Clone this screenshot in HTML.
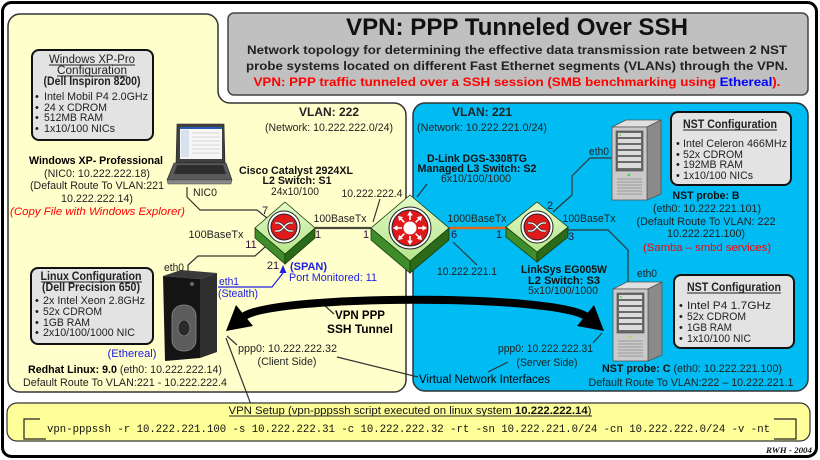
<!DOCTYPE html>
<html><head><meta charset="utf-8"><style>
html,body{margin:0;padding:0;background:#fff;width:820px;height:460px;overflow:hidden}
svg{display:block}
</style></head><body>
<svg width="820" height="460" viewBox="0 0 820 460" xmlns="http://www.w3.org/2000/svg">
<defs>
<linearGradient id="gtop" x1="0" y1="0" x2="0" y2="1"><stop offset="0" stop-color="#e4fac8"/><stop offset="1" stop-color="#b6e68c"/></linearGradient>
</defs>
<rect x="0" y="0" width="820" height="460" fill="#fff"/>
<!-- VLAN 222 yellow -->
<path d="M20,14 H206 A12,12 0 0 1 218,26 V91 A12,12 0 0 0 230,103 H394 A12,12 0 0 1 406,115 V380 A12,12 0 0 1 394,392 H20 A12,12 0 0 1 8,380 V26 A12,12 0 0 1 20,14 Z" fill="#ffffcc" stroke="#333" stroke-width="1.5"/>
<!-- VLAN 221 blue -->
<rect x="413" y="103" width="395" height="288" rx="12" fill="#00bcf2" stroke="#333" stroke-width="1.5"/>
<!-- title box -->
<rect x="228" y="13" width="580" height="82" rx="6" fill="#c0c0c0" stroke="#444" stroke-width="1.5"/>

<g font-family="Liberation Sans, Arial, sans-serif" font-size="11" fill="#222">
<text x="517" y="35" font-size="24" font-weight="bold" text-anchor="middle" fill="#111" textLength="342" lengthAdjust="spacingAndGlyphs">VPN: PPP Tunneled Over SSH</text>
<text x="517" y="54" font-size="12" font-weight="bold" text-anchor="middle" textLength="540" lengthAdjust="spacingAndGlyphs">Network topology for determining the effective data transmission rate between 2 NST</text>
<text x="517" y="70" font-size="12" font-weight="bold" text-anchor="middle" textLength="542" lengthAdjust="spacingAndGlyphs">probe systems located on different Fast Ethernet segments (VLANs) through the VPN.</text>
<text x="517" y="86" font-size="12" font-weight="bold" text-anchor="middle" fill="#ff0000" textLength="527" lengthAdjust="spacingAndGlyphs">VPN: PPP traffic tunneled over a SSH session (SMB benchmarking using <tspan fill="#0000ff">Ethereal</tspan>).</text>

<!-- VLAN labels -->
<text x="329" y="116" font-size="12" font-weight="bold" text-anchor="middle" textLength="60" lengthAdjust="spacingAndGlyphs">VLAN: 222</text>
<text x="329" y="131" text-anchor="middle" textLength="128" lengthAdjust="spacingAndGlyphs">(Network: 10.222.222.0/24)</text>
<text x="482" y="116" font-size="12" font-weight="bold" text-anchor="middle" textLength="60" lengthAdjust="spacingAndGlyphs">VLAN: 221</text>
<text x="482" y="131" text-anchor="middle" textLength="130" lengthAdjust="spacingAndGlyphs">(Network: 10.222.221.0/24)</text>

<!-- XP config box -->
<rect x="32" y="50" width="121" height="90" rx="7" fill="#e3e3e3" stroke="#111" stroke-width="2"/>
<text x="92" y="63" text-anchor="middle" font-size="11.5" textLength="86" lengthAdjust="spacingAndGlyphs">Windows XP-Pro</text>
<line x1="49" y1="65" x2="135" y2="65" stroke="#222" stroke-width="1"/>
<text x="92" y="74" text-anchor="middle" font-size="11.5" textLength="70" lengthAdjust="spacingAndGlyphs">Configuration</text>
<line x1="57" y1="76" x2="127" y2="76" stroke="#222" stroke-width="1"/>
<text x="92" y="85" text-anchor="middle" font-size="11.5" font-weight="bold" textLength="97" lengthAdjust="spacingAndGlyphs">(Dell Inspiron 8200)</text>
<text x="35" y="100">•</text><text x="44" y="100" textLength="104" lengthAdjust="spacingAndGlyphs">Intel Mobil P4 2.0GHz</text>
<text x="35" y="111">•</text><text x="44" y="111" textLength="63" lengthAdjust="spacingAndGlyphs">24 x CDROM</text>
<text x="35" y="121">•</text><text x="44" y="121" textLength="59" lengthAdjust="spacingAndGlyphs">512MB RAM</text>
<text x="35" y="132">•</text><text x="44" y="132" textLength="71" lengthAdjust="spacingAndGlyphs">1x10/100 NICs</text>

<!-- XP labels -->
<text x="96" y="164" text-anchor="middle" font-weight="bold" fill="#000" textLength="134" lengthAdjust="spacingAndGlyphs">Windows XP- Professional</text>
<text x="97" y="177" text-anchor="middle" textLength="106" lengthAdjust="spacingAndGlyphs">(NIC0: 10.222.222.18)</text>
<text x="97" y="189" text-anchor="middle" textLength="134" lengthAdjust="spacingAndGlyphs">(Default Route To VLAN:221</text>
<text x="97" y="202" text-anchor="middle" textLength="72" lengthAdjust="spacingAndGlyphs">10.222.222.14)</text>
<text x="97.5" y="215" text-anchor="middle" fill="#ff0000" font-style="italic" textLength="175" lengthAdjust="spacingAndGlyphs">(Copy File with Windows Explorer)</text>

<!-- Laptop -->
<polygon points="177,124 224,124 225,163 176,163" fill="#404040" stroke="#222" stroke-width="0.6"/>
<rect x="180" y="127" width="42" height="32" fill="#f6f6f6"/>
<rect x="180" y="127" width="42" height="2" fill="#2a5ab8"/>
<rect x="181" y="130" width="8" height="27" fill="#d8e2ee"/>
<g stroke="#b8b8b8" stroke-width="0.6">
<line x1="192" y1="133" x2="220" y2="133"/><line x1="192" y1="137" x2="220" y2="137"/><line x1="192" y1="141" x2="220" y2="141"/><line x1="192" y1="145" x2="220" y2="145"/><line x1="192" y1="149" x2="220" y2="149"/><line x1="192" y1="153" x2="220" y2="153"/>
</g>
<polygon points="174,163 226,163 232,180 167,180" fill="#5a5a5a" stroke="#222" stroke-width="0.6"/>
<polygon points="177,165 223,165 226,174 174,174" fill="#2e2e2e"/>
<polygon points="167,180 232,180 231,184 168,184" fill="#8a8a8a" stroke="#444" stroke-width="0.5"/>
<text x="205" y="196" text-anchor="middle" textLength="24" lengthAdjust="spacingAndGlyphs">NIC0</text>

<!-- Linux config box -->
<rect x="31" y="268" width="122" height="76" rx="7" fill="#e3e3e3" stroke="#111" stroke-width="2"/>
<text x="91" y="280" text-anchor="middle" font-size="11.5" font-weight="bold" textLength="101" lengthAdjust="spacingAndGlyphs">Linux Configuration</text>
<line x1="41" y1="282" x2="142" y2="282" stroke="#222" stroke-width="1"/>
<text x="91" y="291" text-anchor="middle" font-size="11.5" font-weight="bold" textLength="98" lengthAdjust="spacingAndGlyphs">(Dell Precision 650)</text>
<text x="35" y="304">•</text><text x="43" y="304" textLength="102" lengthAdjust="spacingAndGlyphs">2x Intel Xeon 2.8GHz</text>
<text x="35" y="315">•</text><text x="43" y="315" textLength="59" lengthAdjust="spacingAndGlyphs">52x CDROM</text>
<text x="35" y="326">•</text><text x="43" y="326" textLength="47" lengthAdjust="spacingAndGlyphs">1GB RAM</text>
<text x="35" y="336">•</text><text x="43" y="336" textLength="92" lengthAdjust="spacingAndGlyphs">2x10/100/1000 NIC</text>

<!-- Dell tower -->
<polygon points="163,276 181,270 217,273 200,279" fill="#3a3a3a"/>
<polygon points="163,276 200,279 200,358 165,361" fill="#141414"/>
<polygon points="200,279 217,273 217,352 200,358" fill="#2e2e2e"/>
<rect x="172" y="305" width="24" height="46" rx="11" fill="#5c5c5c" stroke="#8a8a8a" stroke-width="0.8"/>
<ellipse cx="184" cy="328" rx="6" ry="8" fill="#2a2a2a" stroke="#999" stroke-width="0.6"/>
<circle cx="192" cy="284" r="2" fill="#666"/>
<text x="132" y="357" text-anchor="middle" fill="#2020e0" textLength="49" lengthAdjust="spacingAndGlyphs">(Ethereal)</text>
<text x="125" y="373" text-anchor="middle" textLength="194" lengthAdjust="spacingAndGlyphs"><tspan font-weight="bold" fill="#000">Redhat Linux: 9.0</tspan> (eth0: 10.222.222.14)</text>
<text x="125" y="386" text-anchor="middle" textLength="204" lengthAdjust="spacingAndGlyphs">Default Route To VLAN:221 - 10.222.222.4</text>

<!-- connector lines -->
<g stroke="#333" stroke-width="1.2" fill="none">
<path d="M187,187 V197 L200,210 H257 L267,218"/>
<path d="M188,271 V265 L198,256 H255 L265,247"/>
<path d="M553,212 L572,195 V176 L590,158 H612"/>
<path d="M566,230 H608 L628,250 V283"/>
<line x1="380" y1="199" x2="373" y2="222"/>
<line x1="453" y1="242" x2="477" y2="265"/>
<line x1="427" y1="184" x2="417" y2="197"/>
<line x1="323" y1="304" x2="334" y2="314"/>
<line x1="227" y1="336" x2="237" y2="345"/>
<line x1="226" y1="338" x2="256" y2="418"/>
<line x1="593" y1="343" x2="602" y2="333"/>
<line x1="337" y1="357" x2="418" y2="377"/>
<line x1="488" y1="372" x2="508" y2="362"/>
</g>
<line x1="315" y1="228" x2="371" y2="228" stroke="#4a4a3a" stroke-width="2.2"/>
<line x1="449" y1="228" x2="506" y2="228" stroke="#e06a1a" stroke-width="2.5"/>

<!-- SPAN blue -->
<path d="M218,287 H272 L283,273" stroke="#2020e0" stroke-width="1.2" fill="none"/>
<polygon points="283,265 279.5,273 286.5,273" fill="#2020e0"/>
<text x="219" y="285" fill="#2020e0" textLength="20" lengthAdjust="spacingAndGlyphs">eth1</text>
<text x="218" y="297" fill="#2020e0" textLength="40" lengthAdjust="spacingAndGlyphs">(Stealth)</text>
<text x="290" y="270" fill="#2020e0" font-weight="bold" textLength="37" lengthAdjust="spacingAndGlyphs">(SPAN)</text>
<text x="289" y="281" fill="#2020e0" textLength="88" lengthAdjust="spacingAndGlyphs">Port Monitored: 11</text>
<text x="174" y="271" text-anchor="middle" textLength="20" lengthAdjust="spacingAndGlyphs">eth0</text>

<!-- Switch S1 -->
<path d="M255,228 L285,254 L285,264 L255,238 Z" fill="#3f8c2a" stroke="#1a3a10" stroke-width="0.8"/>
<path d="M315,228 L285,254 L285,264 L315,238 Z" fill="#2a6a18" stroke="#1a3a10" stroke-width="0.8"/>
<path d="M285,202 L315,228 L285,254 L255,228 Z" fill="url(#gtop)" stroke="#1a3a10" stroke-width="0.8"/>
<circle cx="284" cy="227" r="16" fill="#fff" stroke="#222" stroke-width="1"/>
<circle cx="284" cy="227" r="13" fill="#e01a1a" stroke="#222" stroke-width="1"/>
<g transform="translate(284,227)" fill="none">
<path d="M-9,-4 H-6 C-1,-4 1,4 6,4 H9 M-9,4 H-6 C-1,4 1,-4 6,-4 H9" stroke="#333" stroke-width="2.6"/>
<path d="M-9,-4 H-6 C-1,-4 1,4 6,4 H9 M-9,4 H-6 C-1,4 1,-4 6,-4 H9" stroke="#fff" stroke-width="1.2"/>
</g>

<!-- Switch S2 -->
<path d="M371,228 L410,261 L410,273 L371,240 Z" fill="#3f8c2a" stroke="#1a3a10" stroke-width="0.8"/>
<path d="M449,228 L410,261 L410,273 L449,240 Z" fill="#2a6a18" stroke="#1a3a10" stroke-width="0.8"/>
<path d="M410,195 L449,228 L410,261 L371,228 Z" fill="url(#gtop)" stroke="#1a3a10" stroke-width="0.8"/>
<circle cx="410" cy="228" r="21" fill="#fff" stroke="#222" stroke-width="1"/>
<circle cx="410" cy="228" r="18" fill="#e01a1a" stroke="#222" stroke-width="1"/>
<circle cx="410" cy="228" r="6.5" fill="#fff"/>
<g transform="translate(410,228)" fill="#fff" stroke="#fff">
<g><line x1="8" y1="0" x2="13" y2="0" stroke-width="1.6"/><polygon points="17,0 12.5,-2.8 12.5,2.8" stroke="none"/></g>
<g transform="rotate(45)"><line x1="8" y1="0" x2="13" y2="0" stroke-width="1.6"/><polygon points="17,0 12.5,-2.8 12.5,2.8" stroke="none"/></g>
<g transform="rotate(90)"><line x1="8" y1="0" x2="13" y2="0" stroke-width="1.6"/><polygon points="17,0 12.5,-2.8 12.5,2.8" stroke="none"/></g>
<g transform="rotate(135)"><line x1="8" y1="0" x2="13" y2="0" stroke-width="1.6"/><polygon points="17,0 12.5,-2.8 12.5,2.8" stroke="none"/></g>
<g transform="rotate(180)"><line x1="8" y1="0" x2="13" y2="0" stroke-width="1.6"/><polygon points="17,0 12.5,-2.8 12.5,2.8" stroke="none"/></g>
<g transform="rotate(225)"><line x1="8" y1="0" x2="13" y2="0" stroke-width="1.6"/><polygon points="17,0 12.5,-2.8 12.5,2.8" stroke="none"/></g>
<g transform="rotate(270)"><line x1="8" y1="0" x2="13" y2="0" stroke-width="1.6"/><polygon points="17,0 12.5,-2.8 12.5,2.8" stroke="none"/></g>
<g transform="rotate(315)"><line x1="8" y1="0" x2="13" y2="0" stroke-width="1.6"/><polygon points="17,0 12.5,-2.8 12.5,2.8" stroke="none"/></g>
</g>

<!-- Switch S3 -->
<path d="M506,227 L537,252 L537,262 L506,237 Z" fill="#3f8c2a" stroke="#1a3a10" stroke-width="0.8"/>
<path d="M568,227 L537,252 L537,262 L568,237 Z" fill="#2a6a18" stroke="#1a3a10" stroke-width="0.8"/>
<path d="M537,202 L568,227 L537,252 L506,227 Z" fill="url(#gtop)" stroke="#1a3a10" stroke-width="0.8"/>
<circle cx="537" cy="227" r="16" fill="#fff" stroke="#222" stroke-width="1"/>
<circle cx="537" cy="227" r="13" fill="#e01a1a" stroke="#222" stroke-width="1"/>
<g transform="translate(537,227)" fill="none">
<path d="M-9,-4 H-6 C-1,-4 1,4 6,4 H9 M-9,4 H-6 C-1,4 1,-4 6,-4 H9" stroke="#333" stroke-width="2.6"/>
<path d="M-9,-4 H-6 C-1,-4 1,4 6,4 H9 M-9,4 H-6 C-1,4 1,-4 6,-4 H9" stroke="#fff" stroke-width="1.2"/>
</g>

<!-- switch labels -->
<text x="296" y="174" text-anchor="middle" font-weight="bold" fill="#111" textLength="114" lengthAdjust="spacingAndGlyphs">Cisco Catalyst 2924XL</text>
<text x="297" y="184" text-anchor="middle" font-weight="bold" fill="#111" textLength="69" lengthAdjust="spacingAndGlyphs">L2 Switch: S1</text>
<text x="295" y="195" text-anchor="middle" textLength="48" lengthAdjust="spacingAndGlyphs">24x10/100</text>
<text x="477" y="162" text-anchor="middle" font-weight="bold" fill="#111" textLength="100" lengthAdjust="spacingAndGlyphs">D-Link DGS-3308TG</text>
<text x="477" y="172" text-anchor="middle" font-weight="bold" fill="#111" textLength="119" lengthAdjust="spacingAndGlyphs">Managed L3 Switch: S2</text>
<text x="476" y="182" text-anchor="middle" textLength="70" lengthAdjust="spacingAndGlyphs">6x10/100/1000</text>
<text x="564" y="273" text-anchor="middle" font-weight="bold" fill="#111" textLength="86" lengthAdjust="spacingAndGlyphs">LinkSys EG005W</text>
<text x="564" y="284" text-anchor="middle" font-weight="bold" fill="#111" textLength="72" lengthAdjust="spacingAndGlyphs">L2 Switch: S3</text>
<text x="563" y="294" text-anchor="middle" textLength="70" lengthAdjust="spacingAndGlyphs">5x10/100/1000</text>

<text x="372" y="197" text-anchor="middle" textLength="61" lengthAdjust="spacingAndGlyphs">10.222.222.4</text>
<text x="467" y="275" text-anchor="middle" textLength="60" lengthAdjust="spacingAndGlyphs">10.222.221.1</text>
<text x="340" y="222" text-anchor="middle" textLength="53" lengthAdjust="spacingAndGlyphs">100BaseTx</text>
<text x="477" y="222" text-anchor="middle" textLength="59" lengthAdjust="spacingAndGlyphs">1000BaseTx</text>
<text x="589" y="222" text-anchor="middle" textLength="53" lengthAdjust="spacingAndGlyphs">100BaseTx</text>
<text x="216" y="238" text-anchor="middle" textLength="55" lengthAdjust="spacingAndGlyphs">100BaseTx</text>

<!-- port numbers -->
<g fill="#301030">
<text x="265" y="214" text-anchor="middle">7</text>
<text x="251" y="248" text-anchor="middle">11</text>
<text x="318" y="238" text-anchor="middle">1</text>
<text x="366" y="238" text-anchor="middle">1</text>
<text x="454" y="238" text-anchor="middle">6</text>
<text x="499" y="238" text-anchor="middle">1</text>
<text x="550" y="209" text-anchor="middle">2</text>
<text x="571" y="240" text-anchor="middle">3</text>
<text x="273" y="269" text-anchor="middle">21</text>
</g>

<!-- NST B -->
<polygon points="612,127 626,120 661,120 647,127" fill="#e0e0e0" stroke="#555" stroke-width="0.8"/>
<polygon points="647,127 661,120 661,194 647,200" fill="#8a8a8a" stroke="#555" stroke-width="0.8"/>
<rect x="612" y="127" width="35" height="73" fill="#cacaca" stroke="#555" stroke-width="0.8"/>
<rect x="616" y="131" width="27" height="40" fill="#6a6a6a" stroke="#444" stroke-width="0.6"/>
<g fill="#dcdcdc"><rect x="618" y="133" width="23" height="4"/><rect x="618" y="139" width="23" height="4"/><rect x="618" y="145" width="23" height="4"/><rect x="618" y="151" width="23" height="4"/><rect x="618" y="157" width="23" height="4"/><rect x="618" y="163" width="23" height="5"/></g>
<g stroke="#8a8a8a" stroke-width="0.7"><line x1="617" y1="179" x2="642" y2="179"/><line x1="617" y1="182" x2="642" y2="182"/><line x1="617" y1="185" x2="642" y2="185"/><line x1="617" y1="188" x2="642" y2="188"/><line x1="617" y1="191" x2="642" y2="191"/><line x1="617" y1="194" x2="642" y2="194"/></g>
<circle cx="629" cy="175" r="1.3" fill="#4c4"/><circle cx="620" cy="135" r="0.9" fill="#4c4"/>
<text x="599" y="155" text-anchor="middle" textLength="20" lengthAdjust="spacingAndGlyphs">eth0</text>

<rect x="671" y="112" width="120" height="73" rx="7" fill="#e3e3e3" stroke="#111" stroke-width="2"/>
<text x="730" y="128" text-anchor="middle" font-size="11.5" font-weight="bold" textLength="94" lengthAdjust="spacingAndGlyphs">NST Configuration</text>
<line x1="683" y1="130" x2="777" y2="130" stroke="#222" stroke-width="1"/>
<text x="676" y="147">•</text><text x="683" y="147" textLength="104" lengthAdjust="spacingAndGlyphs">Intel Celeron 466MHz</text>
<text x="676" y="158">•</text><text x="683" y="158" textLength="60" lengthAdjust="spacingAndGlyphs">52x CDROM</text>
<text x="676" y="168">•</text><text x="683" y="168" textLength="60" lengthAdjust="spacingAndGlyphs">192MB RAM</text>
<text x="676" y="179">•</text><text x="683" y="179" textLength="70" lengthAdjust="spacingAndGlyphs">1x10/100 NICs</text>

<text x="706" y="199" text-anchor="middle" font-weight="bold" fill="#111" textLength="67" lengthAdjust="spacingAndGlyphs">NST probe: B</text>
<text x="707" y="212" text-anchor="middle" textLength="108" lengthAdjust="spacingAndGlyphs">(eth0: 10.222.221.101)</text>
<text x="706" y="225" text-anchor="middle" textLength="139" lengthAdjust="spacingAndGlyphs">(Default Route To VLAN: 222</text>
<text x="706" y="237" text-anchor="middle" textLength="78" lengthAdjust="spacingAndGlyphs">10.222.221.100)</text>
<text x="707" y="251" text-anchor="middle" fill="#ff0000" textLength="128" lengthAdjust="spacingAndGlyphs">(Samba – smbd services)</text>

<!-- NST C -->
<polygon points="613,289 627,282 662,282 648,289" fill="#e0e0e0" stroke="#555" stroke-width="0.8"/>
<polygon points="648,289 662,282 662,355 648,361" fill="#8a8a8a" stroke="#555" stroke-width="0.8"/>
<rect x="613" y="289" width="35" height="72" fill="#cacaca" stroke="#555" stroke-width="0.8"/>
<rect x="617" y="293" width="27" height="40" fill="#6a6a6a" stroke="#444" stroke-width="0.6"/>
<g fill="#dcdcdc"><rect x="619" y="295" width="23" height="4"/><rect x="619" y="301" width="23" height="4"/><rect x="619" y="307" width="23" height="4"/><rect x="619" y="313" width="23" height="4"/><rect x="619" y="319" width="23" height="4"/><rect x="619" y="325" width="23" height="5"/></g>
<g stroke="#8a8a8a" stroke-width="0.7"><line x1="618" y1="341" x2="643" y2="341"/><line x1="618" y1="344" x2="643" y2="344"/><line x1="618" y1="347" x2="643" y2="347"/><line x1="618" y1="350" x2="643" y2="350"/><line x1="618" y1="353" x2="643" y2="353"/><line x1="618" y1="356" x2="643" y2="356"/></g>
<circle cx="630" cy="337" r="1.3" fill="#cc4"/><circle cx="621" cy="297" r="0.9" fill="#4c4"/>
<text x="647" y="277" text-anchor="middle" textLength="20" lengthAdjust="spacingAndGlyphs">eth0</text>

<rect x="674" y="275" width="120" height="73" rx="7" fill="#e3e3e3" stroke="#111" stroke-width="2"/>
<text x="734" y="291" text-anchor="middle" font-size="11.5" font-weight="bold" textLength="94" lengthAdjust="spacingAndGlyphs">NST Configuration</text>
<line x1="687" y1="293" x2="781" y2="293" stroke="#222" stroke-width="1"/>
<text x="679" y="309">•</text><text x="687" y="309" textLength="84" lengthAdjust="spacingAndGlyphs">Intel P4 1.7GHz</text>
<text x="679" y="320">•</text><text x="687" y="320" textLength="59" lengthAdjust="spacingAndGlyphs">52x CDROM</text>
<text x="679" y="331">•</text><text x="687" y="331" textLength="45" lengthAdjust="spacingAndGlyphs">1GB RAM</text>
<text x="679" y="342">•</text><text x="687" y="342" textLength="64" lengthAdjust="spacingAndGlyphs">1x10/100 NIC</text>

<text x="692" y="372" text-anchor="middle" textLength="180" lengthAdjust="spacingAndGlyphs"><tspan font-weight="bold" fill="#111">NST probe: C</tspan> (eth0: 10.222.221.100)</text>
<text x="691" y="386" text-anchor="middle" textLength="205" lengthAdjust="spacingAndGlyphs">Default Route To VLAN:222 – 10.222.221.1</text>

<!-- Tunnel arrow -->
<path d="M243,317 C272,294 558,294 587,317" stroke="#000" stroke-width="8" fill="none"/>
<polygon points="226,331 236,305 253,326" fill="#000"/>
<polygon points="604,331 594,305 577,326" fill="#000"/>
<text x="360" y="319" text-anchor="middle" font-size="12" font-weight="bold" fill="#000" textLength="50" lengthAdjust="spacingAndGlyphs">VPN PPP</text>
<text x="360" y="333" text-anchor="middle" font-size="12" font-weight="bold" fill="#000" textLength="66" lengthAdjust="spacingAndGlyphs">SSH Tunnel</text>
<text x="238" y="352" textLength="99" lengthAdjust="spacingAndGlyphs">ppp0: 10.222.222.32</text>
<text x="287" y="365" text-anchor="middle" textLength="59" lengthAdjust="spacingAndGlyphs">(Client Side)</text>
<text x="498" y="352" textLength="95" lengthAdjust="spacingAndGlyphs">ppp0: 10.222.222.31</text>
<text x="547" y="366" text-anchor="middle" textLength="61" lengthAdjust="spacingAndGlyphs">(Server Side)</text>
<text x="419" y="383" fill="#000" font-size="11.5" textLength="131" lengthAdjust="spacingAndGlyphs">Virtual Network Interfaces</text>

<!-- Setup box -->
<rect x="7" y="403" width="803" height="38" rx="10" fill="#ffff99" stroke="#333" stroke-width="1.2"/>
<text x="410" y="414" text-anchor="middle" font-size="11" fill="#111" textLength="363" lengthAdjust="spacingAndGlyphs">VPN Setup (vpn-pppssh script executed on linux system <tspan font-weight="bold">10.222.222.14</tspan>)</text>
<line x1="229" y1="416" x2="592" y2="416" stroke="#222" stroke-width="0.9"/>
<path d="M40,419 H24 V439 H46" stroke="#222" stroke-width="1.2" fill="none"/>
<path d="M774,419 H796 V439 H774" stroke="#222" stroke-width="1.2" fill="none"/>
<text x="47" y="432" font-family="Liberation Mono, monospace" font-size="11" fill="#111" textLength="723" lengthAdjust="spacingAndGlyphs">vpn-pppssh -r 10.222.221.100 -s 10.222.222.31 -c 10.222.222.32 -rt -sn 10.222.221.0/24 -cn 10.222.222.0/24 -v -nt</text>
<text x="812" y="453" text-anchor="end" font-family="Liberation Serif, serif" font-style="italic" font-weight="bold" font-size="8" fill="#111" textLength="46" lengthAdjust="spacingAndGlyphs">RWH - 2004</text>
</g>

<!-- outer frame -->
<rect x="2.5" y="2.5" width="814" height="454" rx="9" fill="none" stroke="#000" stroke-width="3"/>
</svg>
</body></html>
